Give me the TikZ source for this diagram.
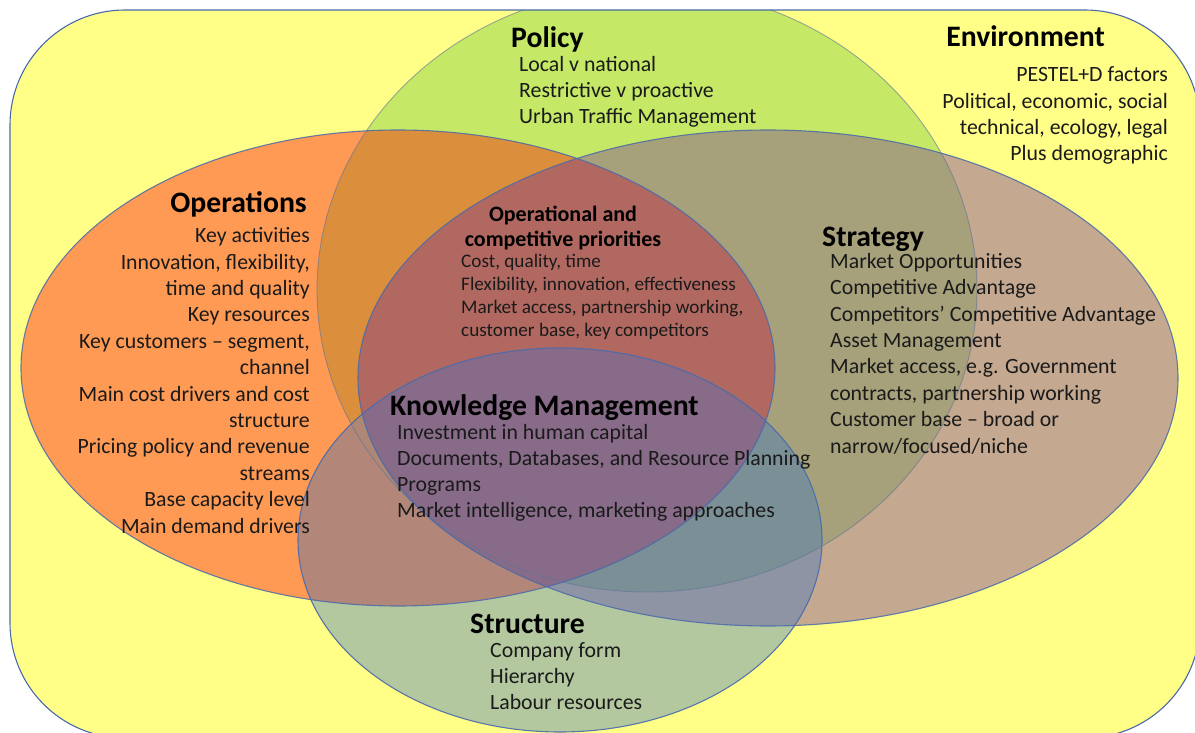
\documentclass[tikz,border=0pt]{standalone}
\usepackage{fontspec}
\setmainfont{Carlito}
\begin{document}
\begin{tikzpicture}[x=1pt,y=-1pt]
% region colours
\definecolor{cBack}{HTML}{FFFF88}
\definecolor{cEdge}{HTML}{4A6AAA}
\definecolor{cP}{HTML}{C5E866}
\definecolor{cO}{HTML}{FF9A55}
\definecolor{cS}{HTML}{C4A890}
\definecolor{cT}{HTML}{B4C8A0}
\definecolor{cOP}{HTML}{DB8F3C}
\definecolor{cPS}{HTML}{A6A17B}
\definecolor{cOS}{HTML}{B06860}
\definecolor{cOT}{HTML}{B28678}
\definecolor{cST}{HTML}{8E94A4}
\definecolor{cOPT}{HTML}{AE8874}
\definecolor{cPST}{HTML}{7A9096}
\definecolor{cOST}{HTML}{876B88}
\definecolor{cText}{HTML}{1A1A1A}
\tikzset{
  ttl/.style={font=\bfseries\fontsize{29.7}{34}\selectfont, inner sep=0pt, text=black},
  sub/.style={font=\bfseries\fontsize{22}{25.5}\selectfont, inner sep=0pt, text=black, align=center},
  body/.style={font=\fontsize{21.8}{26.4}\selectfont, inner sep=0pt, text=cText},
  small/.style={font=\fontsize{19.2}{23}\selectfont, inner sep=0pt, text=cText, align=left},
  rim/.style={draw=cEdge, line width=1.1pt},
}
\useasboundingbox (0,0) rectangle (1195,733);
\clip (0,0) rectangle (1195,733);

% the environment frame and the four sets
\def\shE{[rounded corners=115pt] (10,10) rectangle (1200,738)}
\def\shP{(647,290) ellipse [x radius=330pt, y radius=302pt]}
\def\shO{(398,368) ellipse [x radius=377pt, y radius=238pt]}
\def\shS{(768,378) ellipse [x radius=410pt, y radius=248pt]}
\def\shT{(560,540) ellipse [x radius=262pt, y radius=192pt]}

\fill[white] (0,0) rectangle (1195,733);

\begin{scope}
\clip \shE;
\fill[cBack] (0,0) rectangle (1195,733);
% single sets
\fill[cP] \shP;
\fill[cO] \shO;
\fill[cS] \shS;
\fill[cT] \shT;
% overlaps
\begin{scope}\clip \shO; \fill[cOP] \shP; \end{scope}
\begin{scope}\clip \shP; \fill[cPS] \shS; \end{scope}
\begin{scope}\clip \shO; \fill[cOS] \shS; \end{scope}
\begin{scope}\clip \shO; \fill[cOT] \shT; \end{scope}
\begin{scope}\clip \shS; \fill[cST] \shT; \end{scope}
\begin{scope}\clip \shO; \clip \shP; \fill[cOPT] \shT; \end{scope}
\begin{scope}\clip \shP; \clip \shS; \fill[cPST] \shT; \end{scope}
\begin{scope}\clip \shO; \clip \shS; \fill[cOST] \shT; \end{scope}
% outlines
\draw[draw=cEdge!55!gray, line width=0.9pt, opacity=0.6] \shP;
\draw[rim, opacity=0.85] \shO;
\draw[rim, opacity=0.85] \shS;
\draw[rim, opacity=0.9] \shT;
\end{scope}
\draw[rim] \shE;

% labels (multi-line blocks are placed by the baseline of their last line)
\node[ttl, anchor=base west] (polT) at (511,48) {Policy};
\node[body, align=left, anchor=base west] (polB) at (519,124)
  {Local v national\\Restrictive v proactive\\Urban Traffic Management};

\node[ttl, anchor=base east] (envT) at (1105,47) {Environment};
\node[body, align=right, anchor=base east] (envB) at (1168,161)
  {PESTEL+D factors\\Political, economic, social\\technical, ecology, legal\\Plus demographic};

\node[ttl, anchor=base east] (opsT) at (307,213) {Operations};
\node[body, align=right, anchor=base east] (opsB) at (310,533)
  {Key activities\\Innovation, flexibility,\\time and quality\\Key resources\\Key customers -- segment,\\channel\\Main cost drivers and cost\\structure\\Pricing policy and revenue\\streams\\Base capacity level\\Main demand drivers};

\node[sub, anchor=base] (prioT) at (563,247) {Operational and\\competitive priorities};
\node[small, anchor=base west] (prioB) at (461,336)
  {Cost, quality, time\\Flexibility, innovation, effectiveness\\Market access, partnership working,\\customer base, key competitors};

\node[ttl, anchor=base west] (strT) at (822,246) {Strategy};
\node[body, align=left, anchor=base west] (strB) at (830,453)
  {Market Opportunities\\Competitive Advantage\\Competitors’ Competitive Advantage\\Asset Management\\Market access, e.g. Government\\contracts, partnership working\\Customer base -- broad or\\narrow/focused/niche};

\node[ttl, anchor=base west] (kmT) at (390,415) {Knowledge Management};
\node[body, align=left, anchor=base west, font=\fontsize{21.8}{25.8}\selectfont] (kmB) at (397,517)
  {Investment in human capital\\Documents, Databases, and Resource Planning\\Programs\\Market intelligence, marketing approaches};

\node[ttl, anchor=base west] (stuT) at (470,633) {Structure};
\node[body, align=left, anchor=base west, font=\fontsize{21.8}{26}\selectfont] (stuB) at (490,709)
  {Company form\\Hierarchy\\Labour resources};
\end{tikzpicture}
\end{document}
